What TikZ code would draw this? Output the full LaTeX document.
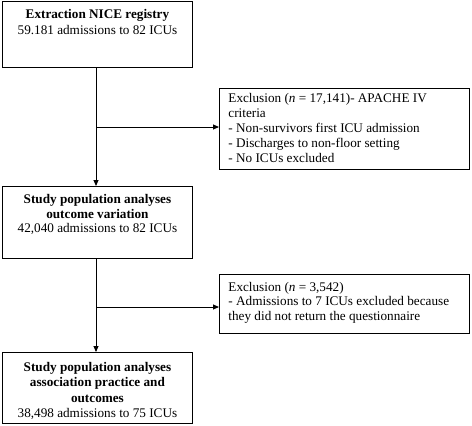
\documentclass[tikz,border=0pt]{standalone}
\usepackage{fontspec}
\setmainfont{Liberation Serif}
\usetikzlibrary{arrows.meta}
\newcommand{\boxtext}[5]{\parbox[c][#1][t]{#2}{\fontsize{13.2}{#4}\selectfont\vspace*{#3}\rule{0pt}{10pt}#5}}
\tikzset{
  fbox/.style={draw, line width=0.9pt, inner sep=0pt, anchor=north west},
  conn/.style={line width=0.9pt},
  arr/.style={conn, -{Triangle[length=6pt,width=5pt]}}
}
\begin{document}
\begin{tikzpicture}[x=1pt,y=-1pt]
\useasboundingbox (0,0) rectangle (472,426);
\node[fbox] (b1) at (2,1) {\boxtext{66pt}{190pt}{7.5pt}{15.8pt}{\centering\textbf{Extraction NICE registry}\\59.181 admissions to 82 ICUs}};
\node[fbox] (e1) at (219,88) {\boxtext{81pt}{250pt}{4.5pt}{15pt}{\raggedright\leftskip=9pt Exclusion (\textit{n} = 17,141)- APACHE IV\\criteria\\- Non-survivors first ICU admission\\- Discharges to non-floor setting\\- No ICUs excluded}};
\node[fbox] (b2) at (2,186) {\boxtext{72pt}{190pt}{7pt}{14.7pt}{\centering\textbf{Study population analyses}\\\textbf{outcome variation}\\42,040 admissions to 82 ICUs}};
\node[fbox] (e2) at (219,274) {\boxtext{59pt}{250pt}{7pt}{14.5pt}{\raggedright\leftskip=9pt Exclusion (\textit{n} = 3,542)\\- Admissions to 7 ICUs excluded because\\they did not return the questionnaire}};
\node[fbox] (b3) at (2,352) {\boxtext{71pt}{190pt}{9pt}{15.5pt}{\centering\textbf{Study population analyses}\\\textbf{association practice and}\\\textbf{outcomes}\\38,498 admissions to 75 ICUs}};
\coordinate (j1) at (96,127);
\coordinate (j2) at (96,307);
\draw[arr] (b1.south -| j1) -- (b2.north -| j1);
\draw[arr] (j1) -- (j1 -| e1.west);
\draw[arr] (b2.south -| j2) -- (b3.north -| j2);
\draw[arr] (j2) -- (j2 -| e2.west);
\end{tikzpicture}
\end{document}
